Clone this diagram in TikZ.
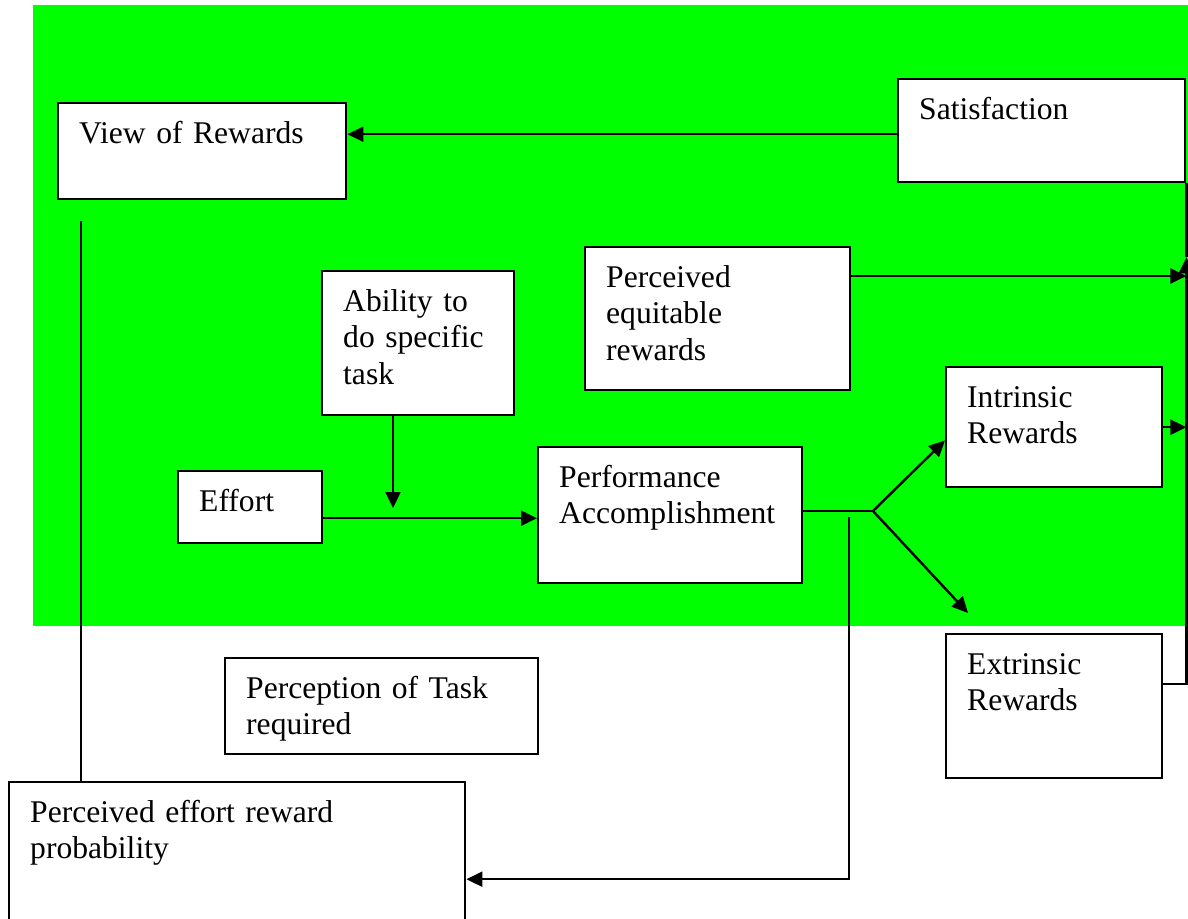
\documentclass[tikz,border=0pt]{standalone}
\usepackage{fontspec}
\setmainfont{Liberation Serif}
\usetikzlibrary{arrows.meta}
\definecolor{bggreen}{RGB}{0,255,0}
\hyphenpenalty=10000
\begin{document}
\begin{tikzpicture}[x=0.5pt,y=-0.5pt,line width=1.2pt,
  box/.style={draw,fill=white,anchor=north west,inner xsep=10.5pt,inner ysep=0pt,
    text height=20pt,align=left,font=\fontsize{15.8}{18.35}\selectfont},
  arr/.style={-{Triangle[length=8pt,width=7.5pt]}}]

  \clip (0,0) rectangle (1188,919);
  \fill[bggreen] (33,5) rectangle (1188,626);

  % boxes
  \node[box,text width=123pt,text depth=28pt] (vor) at (57,102) {View of Rewards};
  \node[box,text width=122.5pt,text depth=31.5pt] (sat) at (897,78) {Satisfaction};
  \node[box,text width=111.5pt,text depth=51.5pt] (peq) at (584,246) {Perceived\\equitable\\rewards};
  \node[box,text width=75pt,text depth=52pt] (abil) at (321,270) {Ability to\\do specific\\task};
  \node[box,text width=51pt,text depth=16pt] (eff) at (177,470) {Effort};
  \node[box,text width=111pt,text depth=48pt] (perf) at (537,446) {Performance\\Accomplishment};
  \node[box,text width=87pt,text depth=40pt] (intr) at (945,366) {Intrinsic\\Rewards};
  \node[box,text width=87pt,text depth=52pt] (extr) at (945,633) {Extrinsic\\Rewards};
  \node[box,text width=135.5pt,text depth=28pt] (ptask) at (224,657) {Perception of Task\\required};
  \node[box,text width=207pt,text depth=77pt] (pef) at (8,781) {Perceived effort reward\\probability};

  % free ends
  \coordinate (vordrop) at (81,221);
  \coordinate (abilend) at (393,508);
  \coordinate (fork) at (873,511);
  \coordinate (extrtip) at (968,613);
  \coordinate (perfdrop) at (849,517);
  \coordinate (railtip) at ([yshift=-37pt]sat.south east);

  % connectors
  \draw[arr] ([yshift=-1.75pt]sat.west) -- ([yshift=-1.75pt]sat.west -| vor.east);
  \draw (vordrop) -- (vordrop |- pef.north);
  \draw[arr] (abil.south -| abilend) -- (abilend);
  \draw[arr] ([yshift=-1.5pt]eff.east |- perf.west) -- ([yshift=-1.5pt]perf.west);
  \draw (perf.east |- fork) -- (fork);
  \draw[arr] (fork) -- ([yshift=24pt]intr.south west);
  \draw[arr] (fork) -- (extrtip);
  \draw[arr] (perfdrop) |- (pef.east);
  \draw[arr] ([yshift=-15pt]peq.north east) -- ([yshift=-15pt]peq.north east -| sat.east);
  \draw[arr] (intr.east) -- (intr.east -| sat.east);
  \draw[arr] ([yshift=-25.5pt]extr.north east) -| (railtip);
  \draw (railtip) -- (sat.south east);

\end{tikzpicture}
\end{document}
